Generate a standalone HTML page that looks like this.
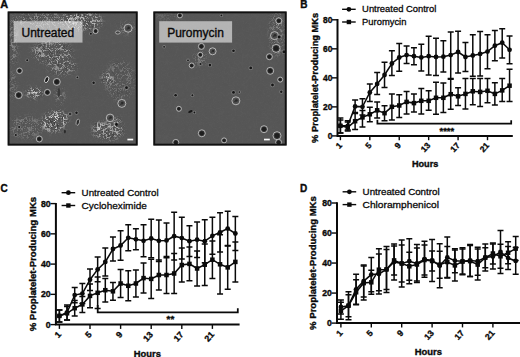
<!DOCTYPE html>
<html><head><meta charset="utf-8"><title>Figure</title>
<style>html,body{margin:0;padding:0;background:#fff;}body{width:520px;height:357px;overflow:hidden;font-family:"Liberation Sans",sans-serif;}svg{display:block;font-family:"Liberation Sans",sans-serif;}text{fill:#0a0a0a;stroke:#0a0a0a;stroke-width:0.3px;}text[font-weight=bold]{stroke-width:0.36px;}</style>
</head><body>
<svg width="520" height="357" viewBox="0 0 520 357">
<defs><filter id="bl" x="-20%" y="-20%" width="140%" height="140%"><feGaussianBlur stdDeviation="2.2"/></filter><filter id="nz" x="0" y="0" width="100%" height="100%" color-interpolation-filters="sRGB"><feTurbulence type="fractalNoise" baseFrequency="0.14" numOctaves="2" seed="5" result="t"/><feColorMatrix in="t" type="matrix" values="0 0 0 0 1  0 0 0 0 1  0 0 0 0 1  22 0 0 0 -10.0" result="a1"/><feColorMatrix in="t" type="matrix" values="0 0 0 0 1  0 0 0 0 1  0 0 0 0 1  -22 0 0 0 12.0" result="a2"/><feComposite in="a1" in2="a2" operator="in" result="band"/><feColorMatrix in="band" type="matrix" values="0 0 0 0 0.88  0 0 0 0 0.88  0 0 0 0 0.88  0 0 0 0.95 0" result="wl"/><feColorMatrix in="t" type="matrix" values="0 0 0 0 1  0 0 0 0 1  0 0 0 0 1  0 22 0 0 -10.3" result="b1"/><feColorMatrix in="t" type="matrix" values="0 0 0 0 1  0 0 0 0 1  0 0 0 0 1  0 -22 0 0 11.7" result="b2"/><feComposite in="b1" in2="b2" operator="in" result="band2"/><feColorMatrix in="band2" type="matrix" values="0 0 0 0 0.1  0 0 0 0 0.1  0 0 0 0 0.1  0 0 0 0.85 0" result="kl"/><feTurbulence type="fractalNoise" baseFrequency="0.85" numOctaves="2" seed="11" result="t2"/><feColorMatrix in="t2" type="matrix" values="0 0 0 0 0.84  0 0 0 0 0.84  0 0 0 0 0.84  4.5 0 0 0 -2.45" result="sp"/><feMerge><feMergeNode in="sp"/><feMergeNode in="kl"/><feMergeNode in="wl"/></feMerge></filter></defs>
<rect width="520" height="357" fill="#fff"/>
<text x="0.2" y="7.8" font-size="10" font-weight="bold" textLength="7.9" lengthAdjust="spacingAndGlyphs">A</text>
<clipPath id="c1"><rect x="7.7" y="11.5" width="129.9" height="134"/></clipPath>
<rect x="7.7" y="11.5" width="129.9" height="134" fill="#565656"/>
<g clip-path="url(#c1)">
<mask id="m1" maskUnits="userSpaceOnUse" x="7.7" y="11.5" width="129.9" height="134"><rect x="7.7" y="11.5" width="129.9" height="134" fill="#000"/><rect x="7.7" y="11.5" width="129.9" height="134" fill="#fff" fill-opacity="0.025"/><g filter="url(#bl)"><ellipse cx="82" cy="21" rx="20" ry="9" fill="#fff" fill-opacity="0.8"/><ellipse cx="45" cy="20" rx="30" ry="8" fill="#fff" fill-opacity="0.45"/><ellipse cx="13" cy="40" rx="4" ry="26" fill="#fff" fill-opacity="0.4"/><ellipse cx="52" cy="52" rx="20" ry="11" fill="#fff" fill-opacity="0.6"/><ellipse cx="62" cy="66" rx="14" ry="9" fill="#fff" fill-opacity="0.5"/><ellipse cx="34" cy="93" rx="8" ry="5" fill="#fff" fill-opacity="1.0"/><ellipse cx="55" cy="121" rx="13" ry="10" fill="#fff" fill-opacity="1.0" transform="rotate(-25 55 121)"/><ellipse cx="26" cy="127" rx="16" ry="11" fill="#fff" fill-opacity="0.3"/><ellipse cx="120" cy="80" rx="15" ry="20" fill="#fff" fill-opacity="0.25"/><ellipse cx="107" cy="78" rx="5" ry="5" fill="#fff" fill-opacity="0.9"/><ellipse cx="108" cy="131" rx="15" ry="9" fill="#fff" fill-opacity="0.7"/><ellipse cx="98" cy="127" rx="4" ry="5" fill="#fff" fill-opacity="1"/><ellipse cx="127" cy="28" rx="8" ry="6" fill="#fff" fill-opacity="0.3"/><ellipse cx="12" cy="85" rx="4" ry="14" fill="#fff" fill-opacity="0.3"/><ellipse cx="60" cy="96" rx="4" ry="8" fill="#fff" fill-opacity="0.5"/><ellipse cx="117" cy="124" rx="4" ry="6" fill="#fff" fill-opacity="0.8"/></g></mask><g mask="url(#m1)"><rect x="7.7" y="11.5" width="129.9" height="134" filter="url(#nz)"/></g>
<ellipse cx="46.7" cy="79.6" rx="1.8" ry="3.2" transform="rotate(25 46.7 79.6)" fill="#1c1c1c" stroke="#e6e6e6" stroke-width="0.8"/>
<ellipse cx="58.8" cy="92.5" rx="1.3" ry="4.5" fill="#3a3a3a"/>
<ellipse cx="77.8" cy="122.2" rx="1.6" ry="3.2" transform="rotate(15 77.8 122.2)" fill="#2a2a2a" stroke="#d0d0d0" stroke-width="0.6"/>
<ellipse cx="116.4" cy="124.2" rx="1.3" ry="1.8" fill="#161616"/>
<ellipse cx="117.8" cy="32.5" rx="2.4" ry="1.6" fill="#444" stroke="#dcdcdc" stroke-width="0.6"/>
<ellipse cx="64.9" cy="131.6" rx="1" ry="1.8" fill="#2a2a2a"/>
<rect x="127.4" y="138.7" width="5.8" height="1.7" fill="#fafafa"/>
<circle cx="95.6" cy="31.1" r="2.5" fill="#3a3a3a" stroke="#d6d6d6" stroke-width="0.75"/><circle cx="95.6" cy="31.1" r="1.5" fill="#1e1e1e"/>
<circle cx="128.1" cy="28.2" r="4" fill="#505050" stroke="#d6d6d6" stroke-width="0.75"/><circle cx="128.6" cy="27.9" r="1.32" fill="#2a2a2a"/><circle cx="127.2" cy="29" r="0.8" fill="#303030"/>
<circle cx="19.5" cy="70.8" r="2.8" fill="#3a3a3a" stroke="#d6d6d6" stroke-width="0.75"/><circle cx="19.5" cy="70.8" r="1.68" fill="#1e1e1e"/>
<circle cx="56.8" cy="81.9" r="3.5" fill="#3a3a3a" stroke="#d6d6d6" stroke-width="0.75"/><circle cx="56.8" cy="81.9" r="2.1" fill="#1e1e1e"/>
<circle cx="18.7" cy="95.1" r="3.5" fill="#3a3a3a" stroke="#d6d6d6" stroke-width="0.75"/><circle cx="18.7" cy="95.1" r="2.1" fill="#1e1e1e"/>
<circle cx="47.4" cy="92.4" r="3" fill="#3a3a3a" stroke="#d6d6d6" stroke-width="0.75"/><circle cx="47.4" cy="92.4" r="1.8" fill="#1e1e1e"/>
<circle cx="39.3" cy="139" r="3" fill="#3a3a3a" stroke="#d6d6d6" stroke-width="0.75"/><circle cx="39.3" cy="139" r="1.8" fill="#1e1e1e"/>
<circle cx="121.8" cy="103.4" r="4" fill="#505050" stroke="#d6d6d6" stroke-width="0.75"/><circle cx="122.3" cy="103.1" r="1.32" fill="#2a2a2a"/><circle cx="120.9" cy="104.2" r="0.8" fill="#303030"/>
<circle cx="110.1" cy="117.9" r="3.8" fill="#505050" stroke="#d6d6d6" stroke-width="0.75"/><circle cx="110.6" cy="117.6" r="1.25" fill="#2a2a2a"/><circle cx="109.2" cy="118.7" r="0.76" fill="#303030"/>
<circle cx="90.9" cy="33.8" r="1.8" fill="#7c7c7c"/><circle cx="90.9" cy="33.8" r="1" fill="#161616"/>
<circle cx="27.2" cy="60.3" r="1.8" fill="#7c7c7c"/><circle cx="27.2" cy="60.3" r="1" fill="#161616"/>
<circle cx="93.6" cy="82.7" r="2" fill="#7c7c7c"/><circle cx="93.6" cy="82.7" r="1.2" fill="#161616"/>
<circle cx="77.4" cy="77.3" r="1.7" fill="#7c7c7c"/><circle cx="77.4" cy="77.3" r="0.9" fill="#161616"/>
<circle cx="126.5" cy="87.7" r="2.2" fill="#7c7c7c"/><circle cx="126.5" cy="87.7" r="1.4" fill="#161616"/>
<circle cx="70.3" cy="113.9" r="2.1" fill="#7c7c7c"/><circle cx="70.3" cy="113.9" r="1.3" fill="#161616"/>
<circle cx="19.1" cy="126.9" r="1.8" fill="#7c7c7c"/><circle cx="19.1" cy="126.9" r="1" fill="#161616"/>
<circle cx="15.8" cy="135" r="1.8" fill="#7c7c7c"/><circle cx="15.8" cy="135" r="1" fill="#161616"/>
<circle cx="76.5" cy="112.8" r="2" fill="#7c7c7c"/><circle cx="76.5" cy="112.8" r="1.2" fill="#161616"/>
<circle cx="70" cy="114" r="1.8" fill="#7c7c7c"/><circle cx="70" cy="114" r="1" fill="#161616"/>
</g>
<rect x="13.7" y="21.2" width="68.8" height="21.4" fill="#ffffff" fill-opacity="0.555"/>
<text x="21.5" y="36.9" font-size="12" style="stroke-width:0.35px">Untreated</text>
<rect x="8.6" y="12.4" width="128.1" height="132.2" fill="none" stroke="#101010" stroke-width="1.8"/>
<clipPath id="c2"><rect x="153.4" y="11.5" width="133.2" height="134"/></clipPath>
<rect x="153.4" y="11.5" width="133.2" height="134" fill="#565656"/>
<g clip-path="url(#c2)">
<mask id="m2" maskUnits="userSpaceOnUse" x="153.4" y="11.5" width="133.2" height="134"><rect x="153.4" y="11.5" width="133.2" height="134" fill="#000"/><rect x="153.4" y="11.5" width="133.2" height="134" fill="#fff" fill-opacity="0.025"/><g filter="url(#bl)"><ellipse cx="277" cy="34" rx="7" ry="22" fill="#fff" fill-opacity="0.45"/><ellipse cx="168" cy="16" rx="14" ry="4" fill="#fff" fill-opacity="0.15"/><ellipse cx="200" cy="58" rx="6" ry="8" fill="#fff" fill-opacity="0.3"/></g></mask><g mask="url(#m2)"><rect x="153.4" y="11.5" width="133.2" height="134" filter="url(#nz)"/></g>
<ellipse cx="190.4" cy="111.5" rx="2.3" ry="1.1" transform="rotate(-25 190.4 111.5)" fill="#161616"/>
<rect x="264" y="138.7" width="5.8" height="1.7" fill="#fafafa"/>
<circle cx="179.9" cy="15.4" r="2.5" fill="#3a3a3a" stroke="#d6d6d6" stroke-width="0.75"/><circle cx="179.9" cy="15.4" r="1.5" fill="#1e1e1e"/>
<circle cx="201.4" cy="46.4" r="3" fill="#3a3a3a" stroke="#d6d6d6" stroke-width="0.75"/><circle cx="201.4" cy="46.4" r="1.8" fill="#1e1e1e"/>
<circle cx="212.6" cy="51.3" r="3.5" fill="#505050" stroke="#d6d6d6" stroke-width="0.75"/><circle cx="213.1" cy="51" r="1.16" fill="#2a2a2a"/><circle cx="211.7" cy="52.1" r="0.7" fill="#303030"/>
<circle cx="278.8" cy="20.8" r="3" fill="#3a3a3a" stroke="#d6d6d6" stroke-width="0.75"/><circle cx="278.8" cy="20.8" r="1.8" fill="#1e1e1e"/>
<circle cx="274.5" cy="35.6" r="4" fill="#505050" stroke="#d6d6d6" stroke-width="0.75"/><circle cx="275" cy="35.3" r="1.32" fill="#2a2a2a"/><circle cx="273.6" cy="36.4" r="0.8" fill="#303030"/>
<circle cx="276.1" cy="48.4" r="4" fill="#3a3a3a" stroke="#d6d6d6" stroke-width="0.75"/><circle cx="276.1" cy="48.4" r="2.4" fill="#1e1e1e"/>
<circle cx="200.3" cy="54.8" r="2.5" fill="#3a3a3a" stroke="#d6d6d6" stroke-width="0.75"/><circle cx="200.3" cy="54.8" r="1.5" fill="#1e1e1e"/>
<circle cx="191.7" cy="65.5" r="2.5" fill="#3a3a3a" stroke="#d6d6d6" stroke-width="0.75"/><circle cx="191.7" cy="65.5" r="1.5" fill="#1e1e1e"/>
<circle cx="269.4" cy="56.7" r="3" fill="#3a3a3a" stroke="#d6d6d6" stroke-width="0.75"/><circle cx="269.4" cy="56.7" r="1.8" fill="#1e1e1e"/>
<circle cx="270.2" cy="70.8" r="3.5" fill="#3a3a3a" stroke="#d6d6d6" stroke-width="0.75"/><circle cx="270.2" cy="70.8" r="2.1" fill="#1e1e1e"/>
<circle cx="280.2" cy="79.6" r="2.5" fill="#3a3a3a" stroke="#d6d6d6" stroke-width="0.75"/><circle cx="280.2" cy="79.6" r="1.5" fill="#1e1e1e"/>
<circle cx="178.9" cy="108.8" r="2.5" fill="#3a3a3a" stroke="#d6d6d6" stroke-width="0.75"/><circle cx="178.9" cy="108.8" r="1.5" fill="#1e1e1e"/>
<circle cx="201.8" cy="133.3" r="3.5" fill="#3a3a3a" stroke="#d6d6d6" stroke-width="0.75"/><circle cx="201.8" cy="133.3" r="2.1" fill="#1e1e1e"/>
<circle cx="175.8" cy="142.4" r="3" fill="#3a3a3a" stroke="#d6d6d6" stroke-width="0.75"/><circle cx="175.8" cy="142.4" r="1.8" fill="#1e1e1e"/>
<circle cx="235.9" cy="100.8" r="4" fill="#505050" stroke="#d6d6d6" stroke-width="0.75"/><circle cx="236.4" cy="100.5" r="1.32" fill="#2a2a2a"/><circle cx="235" cy="101.6" r="0.8" fill="#303030"/>
<circle cx="264" cy="129.2" r="3.5" fill="#3a3a3a" stroke="#d6d6d6" stroke-width="0.75"/><circle cx="264" cy="129.2" r="2.1" fill="#1e1e1e"/>
<circle cx="277" cy="135.7" r="4" fill="#3a3a3a" stroke="#d6d6d6" stroke-width="0.75"/><circle cx="277" cy="135.7" r="2.4" fill="#1e1e1e"/>
<circle cx="278.6" cy="142.4" r="3" fill="#3a3a3a" stroke="#d6d6d6" stroke-width="0.75"/><circle cx="278.6" cy="142.4" r="1.8" fill="#1e1e1e"/>
<circle cx="224.1" cy="140.4" r="2.5" fill="#3a3a3a" stroke="#d6d6d6" stroke-width="0.75"/><circle cx="224.1" cy="140.4" r="1.5" fill="#1e1e1e"/>
<circle cx="164.1" cy="46.8" r="1.7" fill="#7c7c7c"/><circle cx="164.1" cy="46.8" r="0.9" fill="#161616"/>
<circle cx="233.5" cy="50.8" r="2.1" fill="#7c7c7c"/><circle cx="233.5" cy="50.8" r="1.3" fill="#161616"/>
<circle cx="221.4" cy="15.4" r="1.7" fill="#7c7c7c"/><circle cx="221.4" cy="15.4" r="0.9" fill="#161616"/>
<circle cx="209.9" cy="65.1" r="2.1" fill="#7c7c7c"/><circle cx="209.9" cy="65.1" r="1.3" fill="#161616"/>
<circle cx="188" cy="60.3" r="1.7" fill="#7c7c7c"/><circle cx="188" cy="60.3" r="0.9" fill="#161616"/>
<circle cx="200.5" cy="64.1" r="1.8" fill="#7c7c7c"/><circle cx="200.5" cy="64.1" r="1" fill="#161616"/>
<circle cx="175.6" cy="95.3" r="2.1" fill="#7c7c7c"/><circle cx="175.6" cy="95.3" r="1.3" fill="#161616"/>
<circle cx="192.4" cy="95.3" r="1.8" fill="#7c7c7c"/><circle cx="192.4" cy="95.3" r="1" fill="#161616"/>
<circle cx="250.7" cy="67.9" r="2.2" fill="#7c7c7c"/><circle cx="250.7" cy="67.9" r="1.4" fill="#161616"/>
<circle cx="272.5" cy="85" r="2.2" fill="#7c7c7c"/><circle cx="272.5" cy="85" r="1.4" fill="#161616"/>
<circle cx="281.3" cy="91.7" r="2" fill="#7c7c7c"/><circle cx="281.3" cy="91.7" r="1.2" fill="#161616"/>
<circle cx="233.5" cy="92.4" r="2.2" fill="#7c7c7c"/><circle cx="233.5" cy="92.4" r="1.4" fill="#161616"/>
<circle cx="239.3" cy="92.1" r="1.6" fill="#7c7c7c"/><circle cx="239.3" cy="92.1" r="0.8" fill="#161616"/>
<circle cx="194.4" cy="112.5" r="1.7" fill="#7c7c7c"/><circle cx="194.4" cy="112.5" r="0.9" fill="#161616"/>
<circle cx="279.2" cy="36.9" r="2.3" fill="#7c7c7c"/><circle cx="279.2" cy="36.9" r="1.5" fill="#161616"/>
<circle cx="284" cy="51.7" r="2.3" fill="#7c7c7c"/><circle cx="284" cy="51.7" r="1.5" fill="#161616"/>
</g>
<rect x="159.2" y="21.2" width="72.9" height="21.4" fill="#ffffff" fill-opacity="0.555"/>
<text x="167.2" y="36.9" font-size="12" style="stroke-width:0.35px">Puromycin</text>
<rect x="154.3" y="12.4" width="131.4" height="132.2" fill="none" stroke="#101010" stroke-width="1.8"/>
<text x="300.3" y="7.8" font-size="10" font-weight="bold">B</text>
<path d="M337.5 19.1V136.75M336.65 135.9H512.8" stroke="#0a0a0a" stroke-width="2.0" fill="none"/>
<path d="M332 19.8H337.5" stroke="#0a0a0a" stroke-width="1.4"/>
<text x="332.3" y="22.7" font-size="8.4" font-weight="bold" text-anchor="end">80</text>
<path d="M332 48.83H337.5" stroke="#0a0a0a" stroke-width="1.4"/>
<text x="332.3" y="51.73" font-size="8.4" font-weight="bold" text-anchor="end">60</text>
<path d="M332 77.85H337.5" stroke="#0a0a0a" stroke-width="1.4"/>
<text x="332.3" y="80.75" font-size="8.4" font-weight="bold" text-anchor="end">40</text>
<path d="M332 106.88H337.5" stroke="#0a0a0a" stroke-width="1.4"/>
<text x="332.3" y="109.78" font-size="8.4" font-weight="bold" text-anchor="end">20</text>
<path d="M332 135.9H337.5" stroke="#0a0a0a" stroke-width="1.4"/>
<text x="332.3" y="138.8" font-size="8.4" font-weight="bold" text-anchor="end">0</text>
<path d="M340.4 135.9V140.2" stroke="#0a0a0a" stroke-width="1.4"/>
<text transform="translate(342.6,145.9) rotate(-48)" font-size="8.4" font-weight="bold" text-anchor="end">1</text>
<path d="M369.82 135.9V140.2" stroke="#0a0a0a" stroke-width="1.4"/>
<text transform="translate(372.02,145.9) rotate(-48)" font-size="8.4" font-weight="bold" text-anchor="end">5</text>
<path d="M399.24 135.9V140.2" stroke="#0a0a0a" stroke-width="1.4"/>
<text transform="translate(401.44,145.9) rotate(-48)" font-size="8.4" font-weight="bold" text-anchor="end">9</text>
<path d="M428.66 135.9V140.2" stroke="#0a0a0a" stroke-width="1.4"/>
<text transform="translate(430.86,145.9) rotate(-48)" font-size="8.4" font-weight="bold" text-anchor="end">13</text>
<path d="M458.08 135.9V140.2" stroke="#0a0a0a" stroke-width="1.4"/>
<text transform="translate(460.28,145.9) rotate(-48)" font-size="8.4" font-weight="bold" text-anchor="end">17</text>
<path d="M487.5 135.9V140.2" stroke="#0a0a0a" stroke-width="1.4"/>
<text transform="translate(489.7,145.9) rotate(-48)" font-size="8.4" font-weight="bold" text-anchor="end">21</text>
<text transform="translate(317.5,77.85) rotate(-90)" font-size="9.3" font-weight="bold" text-anchor="middle">% Proplatelet-Producing MKs</text>
<text x="425.1" y="166.5" font-size="9.15" font-weight="bold" text-anchor="middle">Hours</text>
<path d="M342.1 9.3h13.6" stroke="#0a0a0a" stroke-width="1.4"/>
<circle cx="348.9" cy="9.3" r="2.4" fill="#0a0a0a"/>
<text x="362.1" y="12.4" font-size="9.4" textLength="74.2" lengthAdjust="spacingAndGlyphs">Untreated Control</text>
<path d="M342.1 22h13.6" stroke="#0a0a0a" stroke-width="1.4"/>
<rect x="346.7" y="19.8" width="4.4" height="4.4" fill="#0a0a0a"/>
<text x="362.1" y="25.1" font-size="9.4" textLength="44.3" lengthAdjust="spacingAndGlyphs">Puromycin</text>
<path d="M340.4 118V133M337.4 118h6M337.4 133h6M347.75 120.7V130M344.75 120.7h6M344.75 130h6M355.11 100.1V112.5M352.11 100.1h6M352.11 112.5h6M362.46 98.7V115M359.46 98.7h6M359.46 115h6M369.82 83.9V101.4M366.82 83.9h6M366.82 101.4h6M377.17 72.5V94.5M374.17 72.5h6M374.17 94.5h6M384.53 62.3V87.5M381.53 62.3h6M381.53 87.5h6M391.88 50.8V75.6M388.88 50.8h6M388.88 75.6h6M399.24 43.5V71.2M396.24 43.5h6M396.24 71.2h6M406.59 45.9V63.6M403.59 45.9h6M403.59 63.6h6M413.95 47.7V64.8M410.95 47.7h6M410.95 64.8h6M421.3 44.3V71M418.3 44.3h6M418.3 71h6M428.66 36.2V75.1M425.66 36.2h6M425.66 75.1h6M436.01 38.2V75.4M433.01 38.2h6M433.01 75.4h6M443.37 40.8V72M440.37 40.8h6M440.37 72h6M450.72 32V78.5M447.72 32h6M447.72 78.5h6M458.08 31.3V73M455.08 31.3h6M455.08 73h6M465.44 42.4V71.6M462.44 42.4h6M462.44 71.6h6M472.79 34.7V76.2M469.79 34.7h6M469.79 76.2h6M480.14 31.6V75.9M477.14 31.6h6M477.14 75.9h6M487.5 34.7V68.8M484.5 34.7h6M484.5 68.8h6M494.86 30.5V60.7M491.86 30.5h6M491.86 60.7h6M502.21 28.8V58M499.21 28.8h6M499.21 58h6M509.56 35.9V63.8M506.56 35.9h6M506.56 63.8h6" stroke="#0a0a0a" stroke-width="1.5" fill="none"/>
<polyline points="340.4,125.8 347.75,125.8 355.11,106.4 362.46,106.8 369.82,92.5 377.17,83.9 384.53,75 391.88,63.5 399.24,57.5 406.59,55.1 413.95,56.2 421.3,57.4 428.66,56.2 436.01,57 443.37,56.7 450.72,55.1 458.08,52 465.44,57 472.79,55.5 480.14,53.9 487.5,51.6 494.86,45.7 502.21,42.7 509.56,49.8" stroke="#0a0a0a" stroke-width="1.55" fill="none"/>
<circle cx="340.4" cy="125.8" r="2.4" fill="#0a0a0a"/>
<circle cx="347.75" cy="125.8" r="2.4" fill="#0a0a0a"/>
<circle cx="355.11" cy="106.4" r="2.4" fill="#0a0a0a"/>
<circle cx="362.46" cy="106.8" r="2.4" fill="#0a0a0a"/>
<circle cx="369.82" cy="92.5" r="2.4" fill="#0a0a0a"/>
<circle cx="377.17" cy="83.9" r="2.4" fill="#0a0a0a"/>
<circle cx="384.53" cy="75" r="2.4" fill="#0a0a0a"/>
<circle cx="391.88" cy="63.5" r="2.4" fill="#0a0a0a"/>
<circle cx="399.24" cy="57.5" r="2.4" fill="#0a0a0a"/>
<circle cx="406.59" cy="55.1" r="2.4" fill="#0a0a0a"/>
<circle cx="413.95" cy="56.2" r="2.4" fill="#0a0a0a"/>
<circle cx="421.3" cy="57.4" r="2.4" fill="#0a0a0a"/>
<circle cx="428.66" cy="56.2" r="2.4" fill="#0a0a0a"/>
<circle cx="436.01" cy="57" r="2.4" fill="#0a0a0a"/>
<circle cx="443.37" cy="56.7" r="2.4" fill="#0a0a0a"/>
<circle cx="450.72" cy="55.1" r="2.4" fill="#0a0a0a"/>
<circle cx="458.08" cy="52" r="2.4" fill="#0a0a0a"/>
<circle cx="465.44" cy="57" r="2.4" fill="#0a0a0a"/>
<circle cx="472.79" cy="55.5" r="2.4" fill="#0a0a0a"/>
<circle cx="480.14" cy="53.9" r="2.4" fill="#0a0a0a"/>
<circle cx="487.5" cy="51.6" r="2.4" fill="#0a0a0a"/>
<circle cx="494.86" cy="45.7" r="2.4" fill="#0a0a0a"/>
<circle cx="502.21" cy="42.7" r="2.4" fill="#0a0a0a"/>
<circle cx="509.56" cy="49.8" r="2.4" fill="#0a0a0a"/>
<path d="M340.4 120.1V133M337.4 120.1h6M337.4 133h6M347.75 122V131M344.75 122h6M344.75 131h6M355.11 113.5V129.4M352.11 113.5h6M352.11 129.4h6M362.46 110.4V126.9M359.46 110.4h6M359.46 126.9h6M369.82 107.3V121.7M366.82 107.3h6M366.82 121.7h6M377.17 102V118.1M374.17 102h6M374.17 118.1h6M384.53 105.8V120.7M381.53 105.8h6M381.53 120.7h6M391.88 93.9V120.1M388.88 93.9h6M388.88 120.1h6M399.24 94.7V117.4M396.24 94.7h6M396.24 117.4h6M406.59 91.6V114M403.59 91.6h6M403.59 114h6M413.95 93.9V112M410.95 93.9h6M410.95 112h6M421.3 88.5V114M418.3 88.5h6M418.3 114h6M428.66 90.8V110.3M425.66 90.8h6M425.66 110.3h6M436.01 82.3V114.3M433.01 82.3h6M433.01 114.3h6M443.37 83.1V112.5M440.37 83.1h6M440.37 112.5h6M450.72 79.3V109.3M447.72 79.3h6M447.72 109.3h6M458.08 87.8V105.4M455.08 87.8h6M455.08 105.4h6M465.44 78.5V108.9M462.44 78.5h6M462.44 108.9h6M472.79 78.5V104.7M469.79 78.5h6M469.79 104.7h6M480.14 78.5V106.6M477.14 78.5h6M477.14 106.6h6M487.5 78.5V102.7M484.5 78.5h6M484.5 102.7h6M494.86 82.7V105M491.86 82.7h6M491.86 105h6M502.21 78.5V101.4M499.21 78.5h6M499.21 101.4h6M509.56 69.3V101.6M506.56 69.3h6M506.56 101.6h6" stroke="#0a0a0a" stroke-width="1.5" fill="none"/>
<polyline points="340.4,125.8 347.75,127.4 355.11,121.2 362.46,117.4 369.82,114.3 377.17,110.3 384.53,113.2 391.88,106.8 399.24,105.5 406.59,101.9 413.95,103.1 421.3,100.8 428.66,100.8 436.01,97.8 443.37,97.8 450.72,94.2 458.08,96.3 465.44,93.9 472.79,91.3 480.14,91.9 487.5,90.8 494.86,93.9 502.21,90.4 509.56,85.7" stroke="#0a0a0a" stroke-width="1.55" fill="none"/>
<rect x="338.15" y="123.55" width="4.5" height="4.5" fill="#0a0a0a"/>
<rect x="345.5" y="125.15" width="4.5" height="4.5" fill="#0a0a0a"/>
<rect x="352.86" y="118.95" width="4.5" height="4.5" fill="#0a0a0a"/>
<rect x="360.21" y="115.15" width="4.5" height="4.5" fill="#0a0a0a"/>
<rect x="367.57" y="112.05" width="4.5" height="4.5" fill="#0a0a0a"/>
<rect x="374.92" y="108.05" width="4.5" height="4.5" fill="#0a0a0a"/>
<rect x="382.28" y="110.95" width="4.5" height="4.5" fill="#0a0a0a"/>
<rect x="389.63" y="104.55" width="4.5" height="4.5" fill="#0a0a0a"/>
<rect x="396.99" y="103.25" width="4.5" height="4.5" fill="#0a0a0a"/>
<rect x="404.34" y="99.65" width="4.5" height="4.5" fill="#0a0a0a"/>
<rect x="411.7" y="100.85" width="4.5" height="4.5" fill="#0a0a0a"/>
<rect x="419.05" y="98.55" width="4.5" height="4.5" fill="#0a0a0a"/>
<rect x="426.41" y="98.55" width="4.5" height="4.5" fill="#0a0a0a"/>
<rect x="433.76" y="95.55" width="4.5" height="4.5" fill="#0a0a0a"/>
<rect x="441.12" y="95.55" width="4.5" height="4.5" fill="#0a0a0a"/>
<rect x="448.47" y="91.95" width="4.5" height="4.5" fill="#0a0a0a"/>
<rect x="455.83" y="94.05" width="4.5" height="4.5" fill="#0a0a0a"/>
<rect x="463.19" y="91.65" width="4.5" height="4.5" fill="#0a0a0a"/>
<rect x="470.54" y="89.05" width="4.5" height="4.5" fill="#0a0a0a"/>
<rect x="477.89" y="89.65" width="4.5" height="4.5" fill="#0a0a0a"/>
<rect x="485.25" y="88.55" width="4.5" height="4.5" fill="#0a0a0a"/>
<rect x="492.61" y="91.65" width="4.5" height="4.5" fill="#0a0a0a"/>
<rect x="499.96" y="88.15" width="4.5" height="4.5" fill="#0a0a0a"/>
<rect x="507.31" y="83.45" width="4.5" height="4.5" fill="#0a0a0a"/>
<path d="M377.4 119.7V123.6H511.2V120.2" stroke="#0a0a0a" stroke-width="1.75" fill="none"/>
<text x="446.8" y="133.9" font-size="9.4" font-weight="bold" text-anchor="middle">****</text>
<text x="0.6" y="192.2" font-size="10" font-weight="bold">C</text>
<path d="M55.9 202.9V325.45M55.05 324.6H239.6" stroke="#0a0a0a" stroke-width="2.0" fill="none"/>
<path d="M50.4 203.6H55.9" stroke="#0a0a0a" stroke-width="1.4"/>
<text x="50.7" y="206.5" font-size="8.7" font-weight="bold" text-anchor="end">80</text>
<path d="M50.4 233.85H55.9" stroke="#0a0a0a" stroke-width="1.4"/>
<text x="50.7" y="236.75" font-size="8.7" font-weight="bold" text-anchor="end">60</text>
<path d="M50.4 264.1H55.9" stroke="#0a0a0a" stroke-width="1.4"/>
<text x="50.7" y="267" font-size="8.7" font-weight="bold" text-anchor="end">40</text>
<path d="M50.4 294.35H55.9" stroke="#0a0a0a" stroke-width="1.4"/>
<text x="50.7" y="297.25" font-size="8.7" font-weight="bold" text-anchor="end">20</text>
<path d="M50.4 324.6H55.9" stroke="#0a0a0a" stroke-width="1.4"/>
<text x="50.7" y="327.5" font-size="8.7" font-weight="bold" text-anchor="end">0</text>
<path d="M59.4 324.6V328.9" stroke="#0a0a0a" stroke-width="1.4"/>
<text transform="translate(61.69,335) rotate(-48)" font-size="8.7" font-weight="bold" text-anchor="end">1</text>
<path d="M90 324.6V328.9" stroke="#0a0a0a" stroke-width="1.4"/>
<text transform="translate(92.29,335) rotate(-48)" font-size="8.7" font-weight="bold" text-anchor="end">5</text>
<path d="M120.6 324.6V328.9" stroke="#0a0a0a" stroke-width="1.4"/>
<text transform="translate(122.89,335) rotate(-48)" font-size="8.7" font-weight="bold" text-anchor="end">9</text>
<path d="M151.2 324.6V328.9" stroke="#0a0a0a" stroke-width="1.4"/>
<text transform="translate(153.49,335) rotate(-48)" font-size="8.7" font-weight="bold" text-anchor="end">13</text>
<path d="M181.8 324.6V328.9" stroke="#0a0a0a" stroke-width="1.4"/>
<text transform="translate(184.09,335) rotate(-48)" font-size="8.7" font-weight="bold" text-anchor="end">17</text>
<path d="M212.4 324.6V328.9" stroke="#0a0a0a" stroke-width="1.4"/>
<text transform="translate(214.69,335) rotate(-48)" font-size="8.7" font-weight="bold" text-anchor="end">21</text>
<text transform="translate(36.4,264.1) rotate(-90)" font-size="9.62" font-weight="bold" text-anchor="middle">% Proplatelet-Producing MKs</text>
<text x="147.4" y="356.5" font-size="9.4" font-weight="bold" text-anchor="middle">Hours</text>
<path d="M61.6 192.7h13.6" stroke="#0a0a0a" stroke-width="1.4"/>
<circle cx="68.4" cy="192.7" r="2.4" fill="#0a0a0a"/>
<text x="81.6" y="195.8" font-size="9.9" textLength="77" lengthAdjust="spacingAndGlyphs">Untreated Control</text>
<path d="M61.6 205.5h13.6" stroke="#0a0a0a" stroke-width="1.4"/>
<rect x="66.2" y="203.3" width="4.4" height="4.4" fill="#0a0a0a"/>
<text x="81.6" y="208.6" font-size="9.9" textLength="65.3" lengthAdjust="spacingAndGlyphs">Cycloheximide</text>
<path d="M59.4 309.9V321.9M56.4 309.9h6M56.4 321.9h6M67.05 305V320M64.05 305h6M64.05 320h6M74.7 287.4V302.8M71.7 287.4h6M71.7 302.8h6M82.35 283.6V303.6M79.35 283.6h6M79.35 303.6h6M90 268.9V290.5M87 268.9h6M87 290.5h6M97.65 257V281.8M94.65 257h6M94.65 281.8h6M105.3 248.1V275.9M102.3 248.1h6M102.3 275.9h6M112.95 237V261M109.95 237h6M109.95 261h6M120.6 230.7V260.3M117.6 230.7h6M117.6 260.3h6M128.25 224.8V250.8M125.25 224.8h6M125.25 250.8h6M135.9 228.8V249.8M132.9 228.8h6M132.9 249.8h6M143.55 224.8V256.8M140.55 224.8h6M140.55 256.8h6M151.2 219.3V257.7M148.2 219.3h6M148.2 257.7h6M158.85 220V261.6M155.85 220h6M155.85 261.6h6M166.5 223.1V257.7M163.5 223.1h6M163.5 257.7h6M174.15 212.3V260.1M171.15 212.3h6M171.15 260.1h6M181.8 217.3V258.9M178.8 217.3h6M178.8 258.9h6M189.45 225.8V256.6M186.45 225.8h6M186.45 256.6h6M197.1 222V257.4M194.1 222h6M194.1 257.4h6M204.75 219.7V262.7M201.75 219.7h6M201.75 262.7h6M212.4 217.3V254.3M209.4 217.3h6M209.4 254.3h6M220.05 212.7V251.9M217.05 212.7h6M217.05 251.9h6M227.7 211.2V246M224.7 211.2h6M224.7 246h6M235.35 216.6V250.4M232.35 216.6h6M232.35 250.4h6" stroke="#0a0a0a" stroke-width="1.5" fill="none"/>
<polyline points="59.4,315.9 67.05,312.5 74.7,295.1 82.35,293.6 90,279.7 97.65,269.4 105.3,262 112.95,249 120.6,245.5 128.25,237.8 135.9,239.3 143.55,240.8 151.2,238.5 158.85,240.8 166.5,240.4 174.15,236.2 181.8,238.1 189.45,241.2 197.1,239.7 204.75,241.2 212.4,235.8 220.05,232.3 227.7,228.6 235.35,233.5" stroke="#0a0a0a" stroke-width="1.55" fill="none"/>
<circle cx="59.4" cy="315.9" r="2.4" fill="#0a0a0a"/>
<circle cx="67.05" cy="312.5" r="2.4" fill="#0a0a0a"/>
<circle cx="74.7" cy="295.1" r="2.4" fill="#0a0a0a"/>
<circle cx="82.35" cy="293.6" r="2.4" fill="#0a0a0a"/>
<circle cx="90" cy="279.7" r="2.4" fill="#0a0a0a"/>
<circle cx="97.65" cy="269.4" r="2.4" fill="#0a0a0a"/>
<circle cx="105.3" cy="262" r="2.4" fill="#0a0a0a"/>
<circle cx="112.95" cy="249" r="2.4" fill="#0a0a0a"/>
<circle cx="120.6" cy="245.5" r="2.4" fill="#0a0a0a"/>
<circle cx="128.25" cy="237.8" r="2.4" fill="#0a0a0a"/>
<circle cx="135.9" cy="239.3" r="2.4" fill="#0a0a0a"/>
<circle cx="143.55" cy="240.8" r="2.4" fill="#0a0a0a"/>
<circle cx="151.2" cy="238.5" r="2.4" fill="#0a0a0a"/>
<circle cx="158.85" cy="240.8" r="2.4" fill="#0a0a0a"/>
<circle cx="166.5" cy="240.4" r="2.4" fill="#0a0a0a"/>
<circle cx="174.15" cy="236.2" r="2.4" fill="#0a0a0a"/>
<circle cx="181.8" cy="238.1" r="2.4" fill="#0a0a0a"/>
<circle cx="189.45" cy="241.2" r="2.4" fill="#0a0a0a"/>
<circle cx="197.1" cy="239.7" r="2.4" fill="#0a0a0a"/>
<circle cx="204.75" cy="241.2" r="2.4" fill="#0a0a0a"/>
<circle cx="212.4" cy="235.8" r="2.4" fill="#0a0a0a"/>
<circle cx="220.05" cy="232.3" r="2.4" fill="#0a0a0a"/>
<circle cx="227.7" cy="228.6" r="2.4" fill="#0a0a0a"/>
<circle cx="235.35" cy="233.5" r="2.4" fill="#0a0a0a"/>
<path d="M59.4 309.9V321.9M56.4 309.9h6M56.4 321.9h6M67.05 306.5V320.1M64.05 306.5h6M64.05 320.1h6M74.7 300.5V315.9M71.7 300.5h6M71.7 315.9h6M82.35 296.4V312.4M79.35 296.4h6M79.35 312.4h6M90 284.1V307.7M87 284.1h6M87 307.7h6M97.65 277.1V308.5M94.65 277.1h6M94.65 308.5h6M105.3 278.5V301.9M102.3 278.5h6M102.3 301.9h6M112.95 282.4V300.2M109.95 282.4h6M109.95 300.2h6M120.6 269.5V297.5M117.6 269.5h6M117.6 297.5h6M128.25 270.8V300.8M125.25 270.8h6M125.25 300.8h6M135.9 270V297M132.9 270h6M132.9 297h6M143.55 263.1V293.1M140.55 263.1h6M140.55 293.1h6M151.2 259.3V298.5M148.2 259.3h6M148.2 298.5h6M158.85 260V290M155.85 260h6M155.85 290h6M166.5 256.4V293.6M163.5 256.4h6M163.5 293.6h6M174.15 253.5V293.5M171.15 253.5h6M171.15 293.5h6M181.8 248.1V281.9M178.8 248.1h6M178.8 281.9h6M189.45 247V280.8M186.45 247h6M186.45 280.8h6M197.1 251.1V285.9M194.1 251.1h6M194.1 285.9h6M204.75 243.9V285.5M201.75 243.9h6M201.75 285.5h6M212.4 240.9V278.5M209.4 240.9h6M209.4 278.5h6M220.05 234.7V293.9M217.05 234.7h6M217.05 293.9h6M227.7 245.5V289.3M224.7 245.5h6M224.7 289.3h6M235.35 241.9V281.9M232.35 241.9h6M232.35 281.9h6" stroke="#0a0a0a" stroke-width="1.5" fill="none"/>
<polyline points="59.4,315.9 67.05,313.3 74.7,308.2 82.35,304.4 90,295.9 97.65,292.8 105.3,290.2 112.95,291.3 120.6,283.5 128.25,285.8 135.9,283.5 143.55,278.1 151.2,278.9 158.85,275 166.5,275 174.15,273.5 181.8,265 189.45,263.9 197.1,268.5 204.75,264.7 212.4,259.7 220.05,264.3 227.7,267.4 235.35,261.9" stroke="#0a0a0a" stroke-width="1.55" fill="none"/>
<rect x="57.15" y="313.65" width="4.5" height="4.5" fill="#0a0a0a"/>
<rect x="64.8" y="311.05" width="4.5" height="4.5" fill="#0a0a0a"/>
<rect x="72.45" y="305.95" width="4.5" height="4.5" fill="#0a0a0a"/>
<rect x="80.1" y="302.15" width="4.5" height="4.5" fill="#0a0a0a"/>
<rect x="87.75" y="293.65" width="4.5" height="4.5" fill="#0a0a0a"/>
<rect x="95.4" y="290.55" width="4.5" height="4.5" fill="#0a0a0a"/>
<rect x="103.05" y="287.95" width="4.5" height="4.5" fill="#0a0a0a"/>
<rect x="110.7" y="289.05" width="4.5" height="4.5" fill="#0a0a0a"/>
<rect x="118.35" y="281.25" width="4.5" height="4.5" fill="#0a0a0a"/>
<rect x="126" y="283.55" width="4.5" height="4.5" fill="#0a0a0a"/>
<rect x="133.65" y="281.25" width="4.5" height="4.5" fill="#0a0a0a"/>
<rect x="141.3" y="275.85" width="4.5" height="4.5" fill="#0a0a0a"/>
<rect x="148.95" y="276.65" width="4.5" height="4.5" fill="#0a0a0a"/>
<rect x="156.6" y="272.75" width="4.5" height="4.5" fill="#0a0a0a"/>
<rect x="164.25" y="272.75" width="4.5" height="4.5" fill="#0a0a0a"/>
<rect x="171.9" y="271.25" width="4.5" height="4.5" fill="#0a0a0a"/>
<rect x="179.55" y="262.75" width="4.5" height="4.5" fill="#0a0a0a"/>
<rect x="187.2" y="261.65" width="4.5" height="4.5" fill="#0a0a0a"/>
<rect x="194.85" y="266.25" width="4.5" height="4.5" fill="#0a0a0a"/>
<rect x="202.5" y="262.45" width="4.5" height="4.5" fill="#0a0a0a"/>
<rect x="210.15" y="257.45" width="4.5" height="4.5" fill="#0a0a0a"/>
<rect x="217.8" y="262.05" width="4.5" height="4.5" fill="#0a0a0a"/>
<rect x="225.45" y="265.15" width="4.5" height="4.5" fill="#0a0a0a"/>
<rect x="233.1" y="259.65" width="4.5" height="4.5" fill="#0a0a0a"/>
<path d="M97.7 305V312.3H237.8V308.2" stroke="#0a0a0a" stroke-width="1.75" fill="none"/>
<text x="170.4" y="322.2" font-size="9.8" font-weight="bold" text-anchor="middle">**</text>
<text x="299.9" y="192.2" font-size="10" font-weight="bold">D</text>
<path d="M337 202.3V323.95M336.15 323.1H520" stroke="#0a0a0a" stroke-width="2.0" fill="none"/>
<path d="M331.5 203H337" stroke="#0a0a0a" stroke-width="1.4"/>
<text x="331.8" y="205.9" font-size="8.6" font-weight="bold" text-anchor="end">80</text>
<path d="M331.5 233.03H337" stroke="#0a0a0a" stroke-width="1.4"/>
<text x="331.8" y="235.93" font-size="8.6" font-weight="bold" text-anchor="end">60</text>
<path d="M331.5 263.05H337" stroke="#0a0a0a" stroke-width="1.4"/>
<text x="331.8" y="265.95" font-size="8.6" font-weight="bold" text-anchor="end">40</text>
<path d="M331.5 293.08H337" stroke="#0a0a0a" stroke-width="1.4"/>
<text x="331.8" y="295.98" font-size="8.6" font-weight="bold" text-anchor="end">20</text>
<path d="M331.5 323.1H337" stroke="#0a0a0a" stroke-width="1.4"/>
<text x="331.8" y="326" font-size="8.6" font-weight="bold" text-anchor="end">0</text>
<path d="M340.9 323.1V327.4" stroke="#0a0a0a" stroke-width="1.4"/>
<text transform="translate(343.17,333.4) rotate(-48)" font-size="8.6" font-weight="bold" text-anchor="end">1</text>
<path d="M371.3 323.1V327.4" stroke="#0a0a0a" stroke-width="1.4"/>
<text transform="translate(373.57,333.4) rotate(-48)" font-size="8.6" font-weight="bold" text-anchor="end">5</text>
<path d="M401.7 323.1V327.4" stroke="#0a0a0a" stroke-width="1.4"/>
<text transform="translate(403.97,333.4) rotate(-48)" font-size="8.6" font-weight="bold" text-anchor="end">9</text>
<path d="M432.1 323.1V327.4" stroke="#0a0a0a" stroke-width="1.4"/>
<text transform="translate(434.37,333.4) rotate(-48)" font-size="8.6" font-weight="bold" text-anchor="end">13</text>
<path d="M462.5 323.1V327.4" stroke="#0a0a0a" stroke-width="1.4"/>
<text transform="translate(464.77,333.4) rotate(-48)" font-size="8.6" font-weight="bold" text-anchor="end">17</text>
<path d="M492.9 323.1V327.4" stroke="#0a0a0a" stroke-width="1.4"/>
<text transform="translate(495.17,333.4) rotate(-48)" font-size="8.6" font-weight="bold" text-anchor="end">21</text>
<text transform="translate(316.4,263.05) rotate(-90)" font-size="9.56" font-weight="bold" text-anchor="middle">% Proplatelet-Producing MKs</text>
<text x="428.4" y="355.3" font-size="9.45" font-weight="bold" text-anchor="middle">Hours</text>
<path d="M342.6 191.8h13.6" stroke="#0a0a0a" stroke-width="1.4"/>
<circle cx="349.4" cy="191.8" r="2.4" fill="#0a0a0a"/>
<text x="362.6" y="194.9" font-size="9.8" textLength="77" lengthAdjust="spacingAndGlyphs">Untreated Control</text>
<path d="M342.6 204.6h13.6" stroke="#0a0a0a" stroke-width="1.4"/>
<rect x="347.2" y="202.4" width="4.4" height="4.4" fill="#0a0a0a"/>
<text x="362.6" y="207.7" font-size="9.8" textLength="76.4" lengthAdjust="spacingAndGlyphs">Chloramphenicol</text>
<path d="M340.9 300V314M337.9 300h6M337.9 314h6M348.5 291.7V319.7M345.5 291.7h6M345.5 319.7h6M356.1 274.3V304.3M353.1 274.3h6M353.1 304.3h6M363.7 265.1V297.1M360.7 265.1h6M360.7 297.1h6M371.3 257.4V291.8M368.3 257.4h6M368.3 291.8h6M378.9 254V294M375.9 254h6M375.9 294h6M386.5 246.4V292.4M383.5 246.4h6M383.5 292.4h6M394.1 244V280M391.1 244h6M391.1 280h6M401.7 240V287M398.7 240h6M398.7 287h6M409.3 238.7V283.7M406.3 238.7h6M406.3 283.7h6M416.9 244.5V282.5M413.9 244.5h6M413.9 282.5h6M424.5 241.2V277.2M421.5 241.2h6M421.5 277.2h6M432.1 239.4V281.4M429.1 239.4h6M429.1 281.4h6M439.7 243.8V287.8M436.7 243.8h6M436.7 287.8h6M447.3 236.9V277.9M444.3 236.9h6M444.3 277.9h6M454.9 248.7V272.7M451.9 248.7h6M451.9 272.7h6M462.5 247.7V274.7M459.5 247.7h6M459.5 274.7h6M470.1 244.5V276.5M467.1 244.5h6M467.1 276.5h6M477.7 247.2V275.2M474.7 247.2h6M474.7 275.2h6M485.3 243.9V270.9M482.3 243.9h6M482.3 270.9h6M492.9 244.1V269.1M489.9 244.1h6M489.9 269.1h6M500.5 230.4V273.6M497.5 230.4h6M497.5 273.6h6M508.1 246.6V269.6M505.1 246.6h6M505.1 269.6h6M515.7 247.5V274.3M512.7 247.5h6M512.7 274.3h6" stroke="#0a0a0a" stroke-width="1.5" fill="none"/>
<polyline points="340.9,307 348.5,305.7 356.1,289.3 363.7,281.1 371.3,274.6 378.9,274 386.5,269.4 394.1,262 401.7,263.5 409.3,261.2 416.9,263.5 424.5,259.2 432.1,260.4 439.7,265.8 447.3,257.4 454.9,260.7 462.5,261.2 470.1,260.5 477.7,261.2 485.3,257.4 492.9,256.6 500.5,252 508.1,258.1 515.7,260.9" stroke="#0a0a0a" stroke-width="1.55" fill="none"/>
<circle cx="340.9" cy="307" r="2.4" fill="#0a0a0a"/>
<circle cx="348.5" cy="305.7" r="2.4" fill="#0a0a0a"/>
<circle cx="356.1" cy="289.3" r="2.4" fill="#0a0a0a"/>
<circle cx="363.7" cy="281.1" r="2.4" fill="#0a0a0a"/>
<circle cx="371.3" cy="274.6" r="2.4" fill="#0a0a0a"/>
<circle cx="378.9" cy="274" r="2.4" fill="#0a0a0a"/>
<circle cx="386.5" cy="269.4" r="2.4" fill="#0a0a0a"/>
<circle cx="394.1" cy="262" r="2.4" fill="#0a0a0a"/>
<circle cx="401.7" cy="263.5" r="2.4" fill="#0a0a0a"/>
<circle cx="409.3" cy="261.2" r="2.4" fill="#0a0a0a"/>
<circle cx="416.9" cy="263.5" r="2.4" fill="#0a0a0a"/>
<circle cx="424.5" cy="259.2" r="2.4" fill="#0a0a0a"/>
<circle cx="432.1" cy="260.4" r="2.4" fill="#0a0a0a"/>
<circle cx="439.7" cy="265.8" r="2.4" fill="#0a0a0a"/>
<circle cx="447.3" cy="257.4" r="2.4" fill="#0a0a0a"/>
<circle cx="454.9" cy="260.7" r="2.4" fill="#0a0a0a"/>
<circle cx="462.5" cy="261.2" r="2.4" fill="#0a0a0a"/>
<circle cx="470.1" cy="260.5" r="2.4" fill="#0a0a0a"/>
<circle cx="477.7" cy="261.2" r="2.4" fill="#0a0a0a"/>
<circle cx="485.3" cy="257.4" r="2.4" fill="#0a0a0a"/>
<circle cx="492.9" cy="256.6" r="2.4" fill="#0a0a0a"/>
<circle cx="500.5" cy="252" r="2.4" fill="#0a0a0a"/>
<circle cx="508.1" cy="258.1" r="2.4" fill="#0a0a0a"/>
<circle cx="515.7" cy="260.9" r="2.4" fill="#0a0a0a"/>
<path d="M340.9 302.3V319.3M337.9 302.3h6M337.9 319.3h6M348.5 294.7V316.7M345.5 294.7h6M345.5 316.7h6M356.1 279.8V304.8M353.1 279.8h6M353.1 304.8h6M363.7 266.1V300.1M360.7 266.1h6M360.7 300.1h6M371.3 270.3V294.3M368.3 270.3h6M368.3 294.3h6M378.9 248.7V290.7M375.9 248.7h6M375.9 290.7h6M386.5 249.4V289.4M383.5 249.4h6M383.5 289.4h6M394.1 245.9V274.9M391.1 245.9h6M391.1 274.9h6M401.7 245V282M398.7 245h6M398.7 282h6M409.3 252.3V280.3M406.3 252.3h6M406.3 280.3h6M416.9 248V281M413.9 248h6M413.9 281h6M424.5 245V275M421.5 245h6M421.5 275h6M432.1 251V271M429.1 251h6M429.1 271h6M439.7 251.2V278.2M436.7 251.2h6M436.7 278.2h6M447.3 246.5V277.5M444.3 246.5h6M444.3 277.5h6M454.9 249.9V280.9M451.9 249.9h6M451.9 280.9h6M462.5 249.1V274.1M459.5 249.1h6M459.5 274.1h6M470.1 245.6V276.6M467.1 245.6h6M467.1 276.6h6M477.7 249.1V280.1M474.7 249.1h6M474.7 280.1h6M485.3 247.7V267.7M482.3 247.7h6M482.3 267.7h6M492.9 243V264M489.9 243h6M489.9 264h6M500.5 244.3V268.3M497.5 244.3h6M497.5 268.3h6M508.1 241.8V263.8M505.1 241.8h6M505.1 263.8h6M515.7 236.6V260.6M512.7 236.6h6M512.7 260.6h6" stroke="#0a0a0a" stroke-width="1.5" fill="none"/>
<polyline points="340.9,310.8 348.5,305.7 356.1,292.3 363.7,283.1 371.3,282.3 378.9,269.7 386.5,269.4 394.1,260.4 401.7,263.5 409.3,266.3 416.9,264.5 424.5,260 432.1,261 439.7,264.7 447.3,262 454.9,265.4 462.5,261.6 470.1,261.1 477.7,264.6 485.3,257.7 492.9,253.5 500.5,256.3 508.1,252.8 515.7,248.6" stroke="#0a0a0a" stroke-width="1.55" fill="none"/>
<rect x="338.65" y="308.55" width="4.5" height="4.5" fill="#0a0a0a"/>
<rect x="346.25" y="303.45" width="4.5" height="4.5" fill="#0a0a0a"/>
<rect x="353.85" y="290.05" width="4.5" height="4.5" fill="#0a0a0a"/>
<rect x="361.45" y="280.85" width="4.5" height="4.5" fill="#0a0a0a"/>
<rect x="369.05" y="280.05" width="4.5" height="4.5" fill="#0a0a0a"/>
<rect x="376.65" y="267.45" width="4.5" height="4.5" fill="#0a0a0a"/>
<rect x="384.25" y="267.15" width="4.5" height="4.5" fill="#0a0a0a"/>
<rect x="391.85" y="258.15" width="4.5" height="4.5" fill="#0a0a0a"/>
<rect x="399.45" y="261.25" width="4.5" height="4.5" fill="#0a0a0a"/>
<rect x="407.05" y="264.05" width="4.5" height="4.5" fill="#0a0a0a"/>
<rect x="414.65" y="262.25" width="4.5" height="4.5" fill="#0a0a0a"/>
<rect x="422.25" y="257.75" width="4.5" height="4.5" fill="#0a0a0a"/>
<rect x="429.85" y="258.75" width="4.5" height="4.5" fill="#0a0a0a"/>
<rect x="437.45" y="262.45" width="4.5" height="4.5" fill="#0a0a0a"/>
<rect x="445.05" y="259.75" width="4.5" height="4.5" fill="#0a0a0a"/>
<rect x="452.65" y="263.15" width="4.5" height="4.5" fill="#0a0a0a"/>
<rect x="460.25" y="259.35" width="4.5" height="4.5" fill="#0a0a0a"/>
<rect x="467.85" y="258.85" width="4.5" height="4.5" fill="#0a0a0a"/>
<rect x="475.45" y="262.35" width="4.5" height="4.5" fill="#0a0a0a"/>
<rect x="483.05" y="255.45" width="4.5" height="4.5" fill="#0a0a0a"/>
<rect x="490.65" y="251.25" width="4.5" height="4.5" fill="#0a0a0a"/>
<rect x="498.25" y="254.05" width="4.5" height="4.5" fill="#0a0a0a"/>
<rect x="505.85" y="250.55" width="4.5" height="4.5" fill="#0a0a0a"/>
<rect x="513.45" y="246.35" width="4.5" height="4.5" fill="#0a0a0a"/>
</svg></body></html>
